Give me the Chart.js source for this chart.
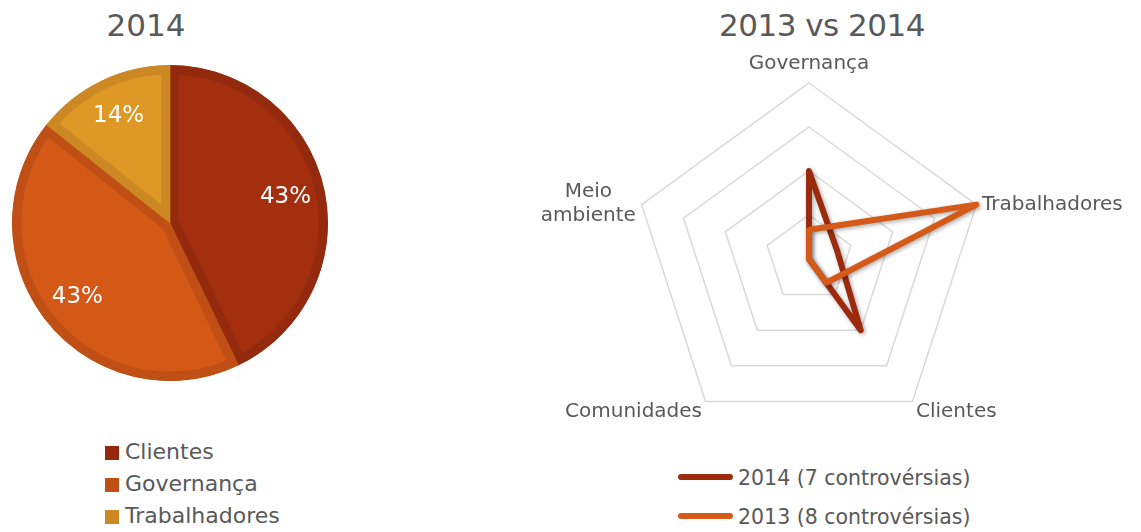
<!DOCTYPE html>
<html>
<head>
<meta charset="utf-8">
<script src="https://cdn.jsdelivr.net/npm/chart.js@4.4.1/dist/chart.umd.min.js"></script>
<style>
  html, body { margin: 0; padding: 0; background: #fff; overflow: hidden; }
  body { width: 1141px; height: 532px; position: relative; font-family: "DejaVu Sans", sans-serif; color: #595959; }
  .abs { position: absolute; }
  .title { font-size: 31px; line-height: 36px; white-space: nowrap; }
  .leg { font-size: 22px; line-height: 32px; white-space: nowrap; }
  .leg .sw { display: inline-block; width: 14px; height: 14px; margin-right: 6px; vertical-align: -1px; }
  .leg2 { font-size: 20.5px; line-height: 39px; white-space: nowrap; }
  .leg2 .ln { display: inline-block; width: 55px; height: 6px; border-radius: 3px; margin-right: 5px; vertical-align: 5px; }
</style>
</head>
<body>
<div class="abs title" style="left:146px; top:7px; transform:translateX(-50%);">2014</div>
<canvas id="pie" class="abs" width="316" height="316" style="left:12px; top:65px;"></canvas>
<div id="pieLegend" class="abs leg" style="left:105px; top:436px;"></div>

<div class="abs title" style="left:822px; top:7px; transform:translateX(-50%); letter-spacing:-0.5px;">2013 vs 2014</div>
<canvas id="radar" class="abs" width="720" height="428" style="left:449px; top:26px;"></canvas>
<div id="radarLegend" class="abs leg2" style="left:678px; top:459px;"></div>

<script>
// pizza 2014 (numero de controversias)
const pieLabels = ['Clientes', 'Governança', 'Trabalhadores'];
const pieValues = [3, 3, 1];
const pieFill = ['#A32F0F', '#D45816', '#DE9826'];
const pieBorder = ['#932A0D', '#BF4F14', '#CC8822'];

// radar 2013 x 2014
const radarLabels = ['Governança', 'Trabalhadores', 'Clientes', 'Comunidades', ['Meio', 'ambiente']];
const values2014 = [3, 1, 3, 0, 0];
const values2013 = [1, 6, 1, 0, 0];
const seriesNames = ['2014 (7 controvérsias)', '2013 (8 controvérsias)'];
const seriesColors = ['#9C2B0E', '#D55A17'];

const FONT = '"DejaVu Sans", sans-serif';

// rotulos de % dentro da pizza
const pctLabels = {
    id: 'pctLabels',
    afterDatasetsDraw(chart) {
        const ctx = chart.ctx;
        const meta = chart.getDatasetMeta(0);
        const total = pieValues.reduce((a, b) => a + b, 0);
        ctx.save();
        ctx.fillStyle = '#fff';
        ctx.font = '23px ' + FONT;
        ctx.textAlign = 'center';
        ctx.textBaseline = 'middle';
        meta.data.forEach((arc, i) => {
            const p = arc.getProps(['x', 'y', 'startAngle', 'endAngle', 'outerRadius']);
            const a = (p.startAngle + p.endAngle) / 2;
            const r = p.outerRadius * 0.75;
            ctx.fillText(Math.round(pieValues[i] / total * 100) + '%', p.x + Math.cos(a) * r, p.y + Math.sin(a) * r);
        });
        ctx.restore();
    }
};

function make_pie(cnv){
    return new Chart(cnv, {
        type: 'pie',
        data: {
            labels: pieLabels,
            datasets: [{
                data: pieValues,
                backgroundColor: pieFill,
                borderColor: pieBorder,
                borderWidth: 9,
                borderAlign: 'inner',
                hoverOffset: 0,
                offset: 0
            }]
        },
        options: {
            responsive: false,
            animation: false,
            plugins: { legend: { display: false }, tooltip: { enabled: false } }
        },
        plugins: [pctLabels]
    });
}

// sombra leve nas linhas do radar
const lineShadow = {
    id: 'lineShadow',
    beforeDatasetDraw(chart) {
        const ctx = chart.ctx;
        ctx.save();
        ctx.shadowColor = 'rgba(0,0,0,0.35)';
        ctx.shadowBlur = 4;
        ctx.shadowOffsetX = 1.5;
        ctx.shadowOffsetY = 1.5;
    },
    afterDatasetDraw(chart) {
        chart.ctx.restore();
    }
};

// ajuste vertical dos rotulos (excel centraliza nos vertices laterais)
const labelNudge = {
    id: 'labelNudge',
    beforeDraw(chart) {
        const items = chart.scales.r._pointLabelItems;
        if (!items) return;
        const dy = [7, 14, -6, -6, 25];
        items.forEach((it, i) => {
            if (it._nudged) return;
            it.y += dy[i];
            it.top += dy[i];
            it.bottom += dy[i];
            if (i === 4) { // "Meio / ambiente" centrado
                it.x = (it.left + it.right) / 2;
                it.textAlign = 'center';
            }
            it._nudged = true;
        });
    }
};

function make_radar(cnv){
    return new Chart(cnv, {
        type: 'radar',
        data: {
            labels: radarLabels,
            datasets: [
                { label: seriesNames[0], data: values2014, borderColor: seriesColors[0], order: 1 },
                { label: seriesNames[1], data: values2013, borderColor: seriesColors[1], order: 0 }
            ].map(d => Object.assign(d, {
                fill: false,
                borderWidth: 6,
                borderJoinStyle: 'round',
                borderCapStyle: 'round',
                pointRadius: 0,
                pointHoverRadius: 0,
                tension: 0
            }))
        },
        options: {
            responsive: false,
            animation: false,
            plugins: { legend: { display: false }, tooltip: { enabled: false } },
            scales: {
                r: {
                    min: 0,
                    max: 6,
                    ticks: { stepSize: 1.5, display: false },
                    grid: { color: '#D9D9D9', lineWidth: 1.5 },
                    angleLines: { display: false },
                    pointLabels: {
                        color: '#595959',
                        font: { family: FONT, size: 20 },
                        padding: (c) => c.index === 0 ? 14 : 6
                    }
                }
            }
        },
        plugins: [lineShadow, labelNudge]
    });
}

make_pie(document.getElementById('pie'));
make_radar(document.getElementById('radar'));

// legendas
const pl = document.getElementById('pieLegend');
pieLabels.forEach((l, i) => {
    const row = document.createElement('div');
    row.innerHTML = '<span class="sw" style="background:' + pieBorder[i] + '"></span>' + l;
    pl.appendChild(row);
});
const rl = document.getElementById('radarLegend');
seriesNames.forEach((l, i) => {
    const row = document.createElement('div');
    row.innerHTML = '<span class="ln" style="background:' + seriesColors[i] + '"></span>' + l;
    rl.appendChild(row);
});
</script>
</body>
</html>
